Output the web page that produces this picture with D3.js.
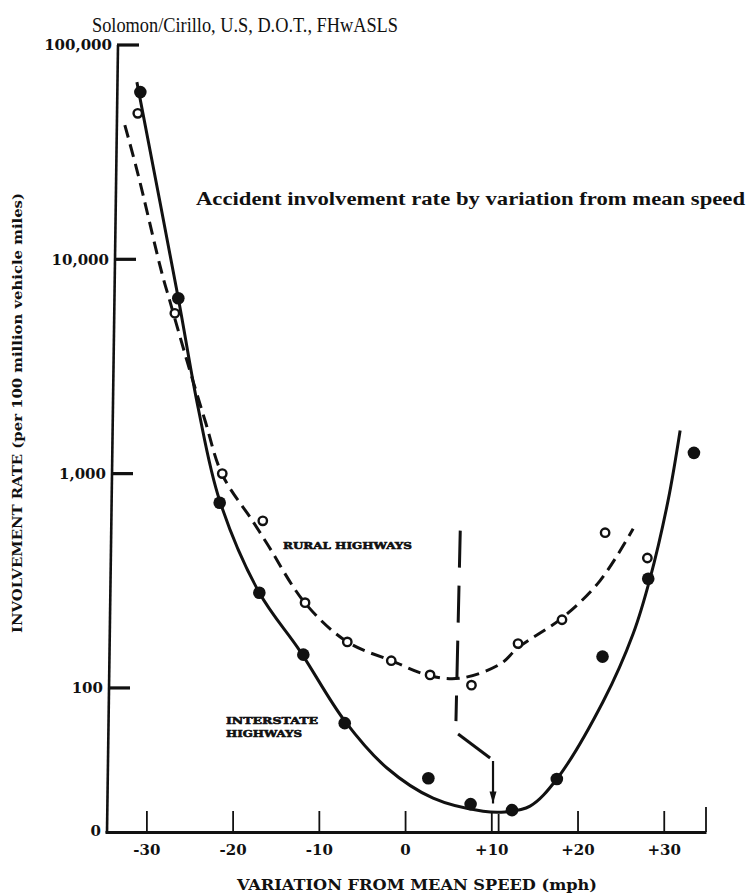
<!DOCTYPE html>
<html>
<head>
<meta charset="utf-8">
<script src="https://cdn.jsdelivr.net/npm/d3@7"></script>
<style>
  html, body { margin: 0; padding: 0; background: #fff; }
  svg { display: block; }
</style>
</head>
<body>
<svg id="chart" width="748" height="893"></svg>
<script>
// ---------- data ----------
// Interstate highways: observed points (filled circles)
const interstateX = [-30.7, -26.3, -21.5, -16.9, -11.8, -7.0, 2.7, 7.6, 12.4, 17.6, 22.9, 28.2, 33.5];
const interstateY = [60300, 6580, 731, 278, 143, 68.5, 37.9, 28.7, 26.9, 37.6, 140, 323, 1250];
// Interstate fitted curve (solid)
const interstateFitX = [-31.1, -26.3, -24.0, -21.5, -16.9, -12.2, -7.0, -2.1, 3.25, 9.05, 11.6, 14.5, 17.6, 23.0, 26.45, 28.4, 30.5, 31.9];
const interstateFitY = [67100, 6580, 2030, 748, 278, 149, 70.2, 42.3, 30.6, 26.6, 26.4, 28.1, 37.6, 86.9, 179, 323, 748, 1590];
// Rural highways: observed points (open circles)
const ruralX = [-31.0, -26.7, -21.2, -16.5, -11.6, -6.7, -1.6, 2.9, 7.7, 13.1, 18.2, 23.2, 28.1];
const ruralY = [48000, 5600, 1000, 602, 250, 164, 134, 115, 103, 161, 208, 530, 404];
// Rural fitted curve (dashed)
const ruralFitX = [-32.5, -31.0, -28.2, -27.3, -25.3, -23.2, -21.2, -17.7, -16.0, -11.6, -6.7, -1.6, 2.9, 6.4, 11.0, 13.1, 18.2, 22.6, 26.45];
const ruralFitY = [42300, 25200, 8610, 6430, 3370, 1770, 989, 603, 471, 249, 164, 134, 114, 111, 129, 154, 212, 316, 553];
// Mean-speed marker (dashed drop line, diagonal, arrow to the minimum)
const meanLineX = [6.4, 5.9];
const meanLineY = [542, 70];
const diagX = [6.15, 9.86];
const diagY = [61, 47.1];
const arrowX = [10.2, 10.2];
const arrowY = [45.6, 28.9];
// Axes
const xTicks = [-30, -20, -10, 0, 10, 20, 30];
const xTickLabels = ["-30", "-20", "-10", "0", "+10", "+20", "+30"];
const yTicks = [21.5, 100, 1000, 10000, 100000];
const yTickLabels = ["0", "100", "1,000", "10,000", "100,000"];
const xDomain = [-34.8, 34.9];
const yDomain = [21.5, 100000];

const titleText = "Solomon/Cirillo, U.S, D.O.T., FHwASLS";
const subtitleText = "Accident involvement rate by variation from mean speed";
const xTitle = "VARIATION FROM MEAN SPEED (mph)";
const yTitle = "INVOLVEMENT RATE (per 100 million vehicle miles)";

// ---------- drawing ----------
const ink = "#111";
const svg = d3.select("#chart");
const x = d3.scaleLinear().domain(xDomain).range([105, 706]);
const y = d3.scaleLog().domain(yDomain).range([831, 45]);
const serifBold = "'DejaVu Serif', 'Liberation Serif', serif";

// Title & subtitle
svg.append("text").attr("x", 92).attr("y", 32)
  .attr("font-family", "'Liberation Serif', serif").attr("font-size", 21)
  .attr("textLength", 306).attr("lengthAdjust", "spacingAndGlyphs")
  .attr("fill", ink).text(titleText);
svg.append("text").attr("x", 196).attr("y", 205)
  .attr("font-family", "'Liberation Serif', serif").attr("font-size", 18).attr("font-weight", "bold")
  .attr("textLength", 549).attr("lengthAdjust", "spacingAndGlyphs")
  .attr("fill", ink).text(subtitleText);

// X axis
const xAxis = d3.axisBottom(x).tickValues(xTicks)
  .tickFormat((d, i) => xTickLabels[i])
  .tickSizeInner(-21).tickSizeOuter(0).tickPadding(12);
const gx = svg.append("g").attr("transform", "translate(0,832)").call(xAxis);
gx.select(".domain").attr("stroke", ink).attr("stroke-width", 3.2);
gx.selectAll(".tick line").attr("stroke", ink).attr("stroke-width", 1.8);
gx.selectAll(".tick text").attr("fill", ink).attr("font-family", serifBold)
  .attr("font-weight", "bold").attr("font-size", 15);
// right end tick and doubled tick at the arrow
[[xDomain[1], -25], [10.85, -18]].forEach(([v, len]) => {
  gx.append("line").attr("x1", x(v)).attr("x2", x(v)).attr("y1", 0).attr("y2", len)
    .attr("stroke", ink).attr("stroke-width", 1.8);
});

// Y axis: the scanned axis leans slightly (x=118 at top, x=107 at bottom)
const axisX = py => 118 + (107 - 118) * (py - 45) / (831 - 45);
const gy = svg.append("g");
gy.append("path")
  .attr("d", `M${axisX(y(yDomain[1]))},${y(yDomain[1])}L${axisX(y(yDomain[0]))},${y(yDomain[0]) + 2}`)
  .attr("fill", "none").attr("stroke", ink).attr("stroke-width", 2.6);
yTicks.forEach((v, i) => {
  const py = y(v), ax = axisX(py);
  if (v !== yDomain[0]) {
    gy.append("rect").attr("x", ax - 1).attr("y", py - 1.6)
      .attr("width", 22).attr("height", 3.2).attr("fill", ink);
  }
  gy.append("text").attr("x", ax - 6).attr("y", py).attr("dy", "0.35em")
    .attr("text-anchor", "end").attr("font-family", serifBold)
    .attr("font-weight", "bold").attr("font-size", 15).attr("fill", ink)
    .text(yTickLabels[i]);
});

// Axis titles
svg.append("text").attr("x", 237).attr("y", 890)
  .attr("font-family", serifBold).attr("font-weight", "bold").attr("font-size", 14)
  .attr("textLength", 360).attr("lengthAdjust", "spacingAndGlyphs")
  .attr("fill", ink).text(xTitle);
svg.append("text").attr("transform", "translate(22,633) rotate(-90)")
  .attr("font-family", serifBold).attr("font-weight", "bold").attr("font-size", 13)
  .attr("textLength", 440).attr("lengthAdjust", "spacingAndGlyphs")
  .attr("fill", ink).text(yTitle);

// Curves
const line = d3.line().x(d => x(d[0])).y(d => y(d[1])).curve(d3.curveCatmullRom.alpha(0.5));
svg.append("path").datum(d3.zip(interstateFitX, interstateFitY))
  .attr("d", line).attr("fill", "none").attr("stroke", ink).attr("stroke-width", 3);
svg.append("path").datum(d3.zip(ruralFitX, ruralFitY))
  .attr("d", line).attr("fill", "none").attr("stroke", ink).attr("stroke-width", 3)
  .attr("stroke-dasharray", "13,7");

// Mean-speed marker
const straight = d3.line().x(d => x(d[0])).y(d => y(d[1]));
svg.append("path").datum(d3.zip(meanLineX, meanLineY)).attr("d", straight)
  .attr("fill", "none").attr("stroke", ink).attr("stroke-width", 3).attr("stroke-dasharray", "37,18");
svg.append("path").datum(d3.zip(diagX, diagY)).attr("d", straight)
  .attr("fill", "none").attr("stroke", ink).attr("stroke-width", 3);
svg.append("path").datum(d3.zip(arrowX, arrowY)).attr("d", straight)
  .attr("fill", "none").attr("stroke", ink).attr("stroke-width", 2.2);
const tipX = x(arrowX[1]), tipY = y(arrowY[1]);
svg.append("path").attr("d", `M${tipX - 3.5},${tipY - 12}L${tipX + 3.5},${tipY - 12}L${tipX},${tipY}Z`)
  .attr("fill", ink);

// Points
svg.append("g").selectAll("circle").data(d3.zip(interstateX, interstateY)).join("circle")
  .attr("cx", d => x(d[0])).attr("cy", d => y(d[1])).attr("r", 6.3).attr("fill", ink);
svg.append("g").selectAll("circle").data(d3.zip(ruralX, ruralY)).join("circle")
  .attr("cx", d => x(d[0])).attr("cy", d => y(d[1])).attr("r", 4.2)
  .attr("fill", "#fff").attr("stroke", ink).attr("stroke-width", 2.4);

// Curve labels
function lab(txt, xx, yy, len) {
  svg.append("text").attr("x", xx).attr("y", yy)
    .attr("font-family", serifBold).attr("font-weight", "bold").attr("font-size", 10)
    .attr("textLength", len).attr("lengthAdjust", "spacingAndGlyphs")
    .attr("fill", ink).attr("stroke", ink).attr("stroke-width", 0.6).text(txt);
}
lab("RURAL HIGHWAYS", 283, 549, 129);
lab("INTERSTATE", 226, 724, 92);
lab("HIGHWAYS", 226, 737, 76);
</script>
</body>
</html>
